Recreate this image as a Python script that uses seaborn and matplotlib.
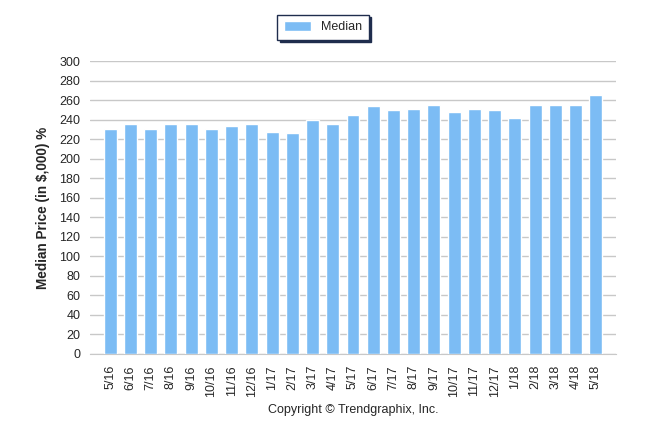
import numpy as np
import pandas as pd
import seaborn as sns
import matplotlib.pyplot as plt

months = ['5/16', '6/16', '7/16', '8/16', '9/16', '10/16', '11/16', '12/16',
          '1/17', '2/17', '3/17', '4/17', '5/17', '6/17', '7/17', '8/17',
          '9/17', '10/17', '11/17', '12/17', '1/18', '2/18', '3/18', '4/18', '5/18']
median = [230, 235, 230, 235, 235, 230, 233, 235, 227, 226, 240, 235, 245,
          254, 250, 251, 255, 248, 251, 250, 242, 255, 255, 255, 265]

df = pd.DataFrame({'month': months, 'median': median})

sns.set_style('white')
plt.rcParams['font.family'] = ['Liberation Sans', 'DejaVu Sans']

fig = plt.figure(figsize=(6.46, 4.34), dpi=100)
ax = fig.add_axes([90 / 646, 80 / 434, 526 / 646, 293 / 434])

# bars
sns.barplot(data=df, x='month', y='median', color='#7cbcf4', saturation=1,
            width=0.64, ax=ax, label='Median', zorder=3)

ax.set_xlim(-1, len(months))
ax.set_ylim(0, 300)
ax.set_yticks(np.arange(0, 301, 20))
ax.yaxis.grid(True, color='#c8c8c8', linewidth=1, zorder=0)
ax.set_axisbelow(True)

# ticks at category edges too, like the original
ax.set_xticks(np.arange(-1, len(months) + 1))
ax.set_xticklabels([''] + months + [''], rotation=90, fontsize=9)
ax.tick_params(axis='x', length=5, color='#c8c8c8', pad=3)
ax.tick_params(axis='y', length=5, color='#c8c8c8', labelsize=9, pad=2)

for s in ['top', 'right', 'left']:
    ax.spines[s].set_visible(False)
ax.spines['bottom'].set_color('#c8c8c8')

ax.set_xlabel('')
ax.set_ylabel('Median Price (in $,000) %', fontsize=9.8, fontweight='bold', labelpad=7)

leg = ax.legend(loc='upper center', bbox_to_anchor=(0.5 - (90 + 263 - 323) / 526, 1.18),
                frameon=True, fancybox=False, fontsize=9,
                shadow={'ox': 1.5, 'oy': -1.5, 'color': '#1f2d4d', 'alpha': 1},
                handlelength=2.2, handleheight=0.9, borderpad=0.5)
leg.get_frame().set_edgecolor('#1f2d4d')
leg.get_frame().set_linewidth(1)

ax.text(0.5, -0.19, 'Copyright \u00a9 Trendgraphix, Inc.', transform=ax.transAxes,
        ha='center', va='center', fontsize=9)

plt.savefig('out.png', dpi=100)
